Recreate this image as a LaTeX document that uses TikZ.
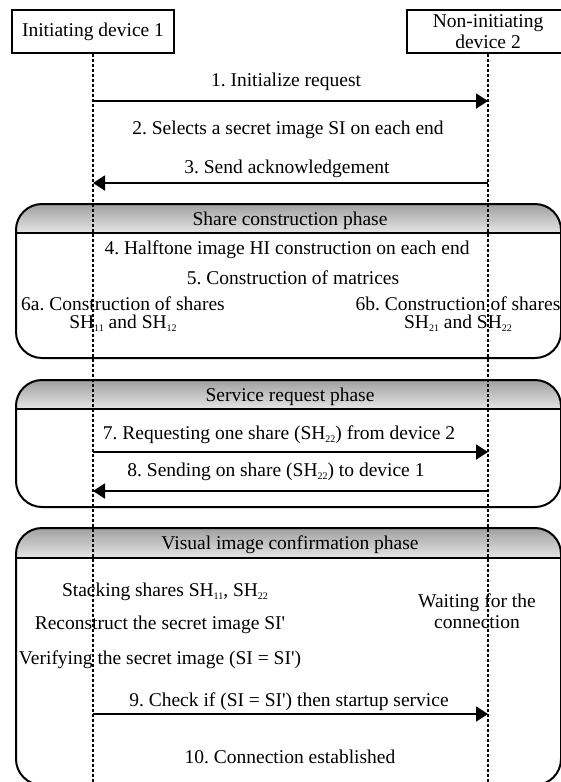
\documentclass[tikz,border=0pt]{standalone}
\usepackage{fontspec}
\setmainfont{Liberation Serif}
\usetikzlibrary{arrows.meta}

\newcommand{\shidx}[1]{\raisebox{-3pt}{\fontsize{10}{10}\selectfont #1}}
\newcommand{\sq}{\textquotesingle}

\tikzstyle{device} = [draw,line width=1.5pt,minimum width=162pt,minimum height=43pt,inner sep=0pt,align=center]
\tikzstyle{msgtext} = [inner sep=0pt,anchor=base]
\tikzstyle{blocktext} = [inner sep=0pt,align=center]
\tikzstyle{msg} = [draw,line width=1.8pt,-{Triangle[length=12pt,width=15pt]}]
\tikzstyle{lifeline} = [draw,line width=2pt,dash pattern=on 3pt off 2pt]
\tikzstyle{phasebox} = [draw,line width=2pt,rounded corners=26pt]
\tikzstyle{phasehead} = [top color=gray!75,bottom color=gray!20]

\begin{document}
\begin{tikzpicture}[x=1pt,y=-1pt,font=\fontsize{19.5}{21}\selectfont\frenchspacing]
      \useasboundingbox (0,0) rectangle (560,782);
      %phases
      \foreach \ph/\ytop/\yhead/\ybot/\title in {
        share/204/233/358/Share construction phase,
        service/380/409/507/Service request phase,
        visual/528/558/785/Visual image confirmation phase}
      {
        \begin{scope}
          \clip[rounded corners=26pt] (16,\ytop) rectangle (561,\ybot);
          \shade[phasehead] (16,\ytop) rectangle (561,\yhead);
        \end{scope}
        \draw[phasebox] (16,\ytop) rectangle (561,\ybot);
        \draw[line width=1.4pt] (16,\yhead) -- (561,\yhead);
        \node[msgtext] (\ph) at (290,{(\ytop+\yhead)/2+6.5}) {\title};
      };

      %devices
      \node[device] (dev1) at (93,31.5) {Initiating device 1};
      \node[device] (dev2) at (488,31.5) {Non-initiating\\device 2};

      %texts
      \foreach \name/\x/\y/\txt in {
        t2/288/128/{2. Selects a secret image SI on each end},
        t4/287/248/{4. Halftone image HI construction on each end},
        t5/293/278/{5. Construction of matrices},
        stack/165/590/{Stacking shares SH\shidx{11}, SH\shidx{22}},
        recon/160/623/{Reconstruct the secret image SI\sq},
        verify/160/658/{Verifying the secret image (SI = SI\sq)},
        t10/290/757/{10. Connection established}}
      {
        \node[msgtext] (\name) at (\x,\y+6.5) {\txt};
      };
      \node[blocktext] (t6a) at (123,314) {6a. Construction of shares\\[-3pt]SH\shidx{11} and SH\shidx{12}};
      \node[blocktext] (t6b) at (458,314) {6b. Construction of shares\\[-3pt]SH\shidx{21} and SH\shidx{22}};
      \node[blocktext] (wait) at (477,611) {Waiting for the\\connection};

      %messages
      \foreach \i/\xa/\xb/\y/\tx/\ty/\txt in {
        1/93/488/101/286/80/{1. Initialize request},
        3/488/93/183/287/167/{3. Send acknowledgement},
        7/93/488/452/279/433/{7. Requesting one share (SH\shidx{22}) from device 2},
        8/488/93/491/276/470/{8. Sending on share (SH\shidx{22}) to device 1},
        9/93/488/714/289/700/{9. Check if (SI = SI\sq) then startup service}}
      {
        \coordinate (a\i) at (\xa,\y);
        \coordinate (b\i) at (\xb,\y);
        \node[msgtext] (t\i) at (\tx,\ty+6.5) {\txt};
        \path[msg] (a\i) -- (b\i);
      };

      %lifelines
      \coordinate (bottom) at (0,782);
      \path[lifeline] (dev1.south) -- (dev1.south |- bottom);
      \path[lifeline] (dev2.south) -- (dev2.south |- bottom);
    \end{tikzpicture}
\end{document}
